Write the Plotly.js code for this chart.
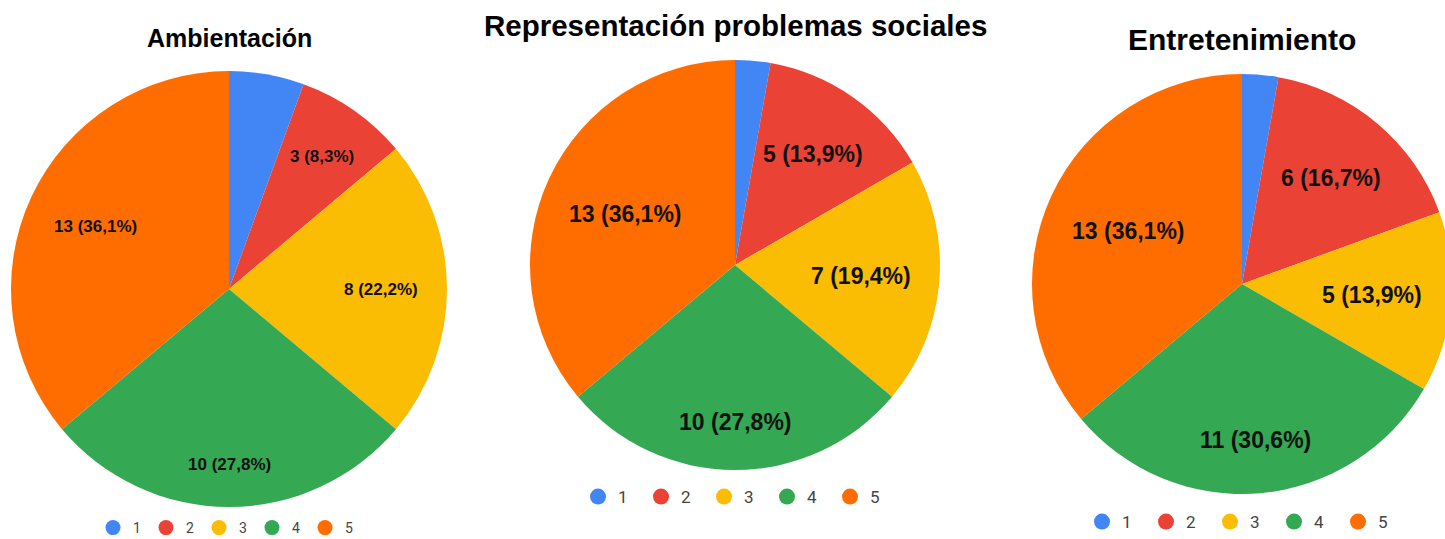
<!DOCTYPE html>
<html><head><meta charset="utf-8">
<script src="https://cdn.plot.ly/plotly-3.0.1.min.js"></script>
<style>html,body{margin:0;padding:0;overflow:hidden;background:#fff}#chart{width:1460px;height:539px}</style>
</head><body><div id="chart"></div>
<script>
const categories = ['1','2','3','4','5'];
const colors = ['#4285F4','#EA4335','#FBBC04','#34A853','#FF6D01'];
const titles = ['Ambientación','Representación problemas sociales','Entretenimiento'];
const ambientacion = [2,3,8,10,13];
const representacion = [1,5,7,10,13];
const entretenimiento = [1,6,5,11,13];

const W = 1460, H = 539;
const series = [ambientacion, representacion, entretenimiento];
// pie boxes in px: [left, right, top, bottom]
const boxes = [[11,447,71,507],[530,940,60,470],[1032,1452,74,494]];
const labelSizes = [17,23,23];
const titleSizes = [25,29.5,30];
const titleY = [38,26,39];
const legendY = [528,497,522];
const legendX = [113,598,1102];
const entryW = [8,18,19];
const legendFont = [14,17,17];
const markerSize = [15,16,16];

// Arial-bold advance widths (em) for label text measurement
const CW = {'0':.556,'1':.556,'2':.556,'3':.556,'4':.556,'5':.556,'6':.556,'7':.556,'8':.556,'9':.556,' ':.278,'(':.333,')':.333,',':.278,'%':.889};
function textW(s, fs){ let w=0; for (const ch of s) w += (CW[ch]||.556); return w*fs; }
function fmt(v,total){
  return v + ' (' + (v/total*100).toFixed(1).replace('.',',') + '%)';
}

const traces = [];
const annotations = [];
const layout = {
  width: W, height: H, margin:{l:0,r:0,t:0,b:0,autoexpand:false},
  paper_bgcolor:'#fff', plot_bgcolor:'#fff',
  font:{family:'Roboto, Arial, sans-serif'},
  xaxis:{visible:false}, yaxis:{visible:false},
  annotations: annotations, showlegend:true
};
series.forEach((vals,i)=>{
  const total = vals.reduce((a,b)=>a+b,0);
  const b = boxes[i];
  traces.push({
    type:'pie', values: vals, labels: categories, sort:false, direction:'clockwise', rotation:0,
    marker:{colors: colors, line:{width:0}},
    textinfo:'none', hoverinfo:'skip', showlegend:false,
    domain:{x:[b[0]/W, b[1]/W], y:[1-b[3]/H, 1-b[2]/H]}
  });
  // slice labels placed along each slice's mid-angle, computed from the data
  const cx = (b[0]+b[1])/2, cy = (b[2]+b[3])/2, r = Math.min(b[1]-b[0], b[3]-b[2])/2;
  const fs = labelSizes[i];
  let cum = 0;
  vals.forEach((v,k)=>{
    const frac = v/total;
    const mid = (cum + frac/2) * 2*Math.PI;
    cum += frac;
    if (frac < 0.06) return;
    const txt = fmt(v,total);
    const w = textW(txt, fs), h = fs;
    const ux = Math.sin(mid), uy = -Math.cos(mid);
    const kr = 0.865*r;
    const B = Math.abs(ux)*w + Math.abs(uy)*h;
    const C = (w*w+h*h)/4 - kr*kr;
    const d = (-B + Math.sqrt(B*B - 4*C))/2;
    const px = cx + d*ux, py = cy + d*uy;
    annotations.push({
      text:'<b>'+txt+'</b>', xref:'paper', yref:'paper', x:px/W, y:1-py/H,
      xanchor:'center', yanchor:'middle', showarrow:false,
      font:{family:'Arial, Liberation Sans, sans-serif', size:fs, color:'#111'}
    });
  });
  annotations.push({
    text:'<b>'+titles[i]+'</b>', xref:'paper', yref:'paper', x:cx/W, y:1-titleY[i]/H,
    xanchor:'center', yanchor:'middle', showarrow:false,
    font:{family:'Arial, Liberation Sans, sans-serif', size:titleSizes[i], color:'#000'}
  });
  const lname = i===0 ? 'legend' : 'legend'+(i+1);
  layout[lname] = {
    orientation:'h', xref:'paper', yref:'paper',
    x:(legendX[i]-20)/W, xanchor:'left', y:1-legendY[i]/H, yanchor:'middle',
    entrywidth: entryW[i], entrywidthmode:'pixels',
    font:{family:'Roboto, Arial, sans-serif', size:legendFont[i], color:'#444'},
    bgcolor:'rgba(0,0,0,0)', itemclick:false, itemdoubleclick:false, itemsizing:'trace'
  };
  categories.forEach((c,k)=>{
    traces.push({type:'scatter', mode:'markers', x:[null], y:[null], name:c, legend:lname,
      marker:{color:colors[k], size: markerSize[i], symbol:'circle'}, showlegend:true, hoverinfo:'skip'});
  });
});
Plotly.newPlot('chart', traces, layout, {staticPlot:true, displayModeBar:false});
</script></body></html>
